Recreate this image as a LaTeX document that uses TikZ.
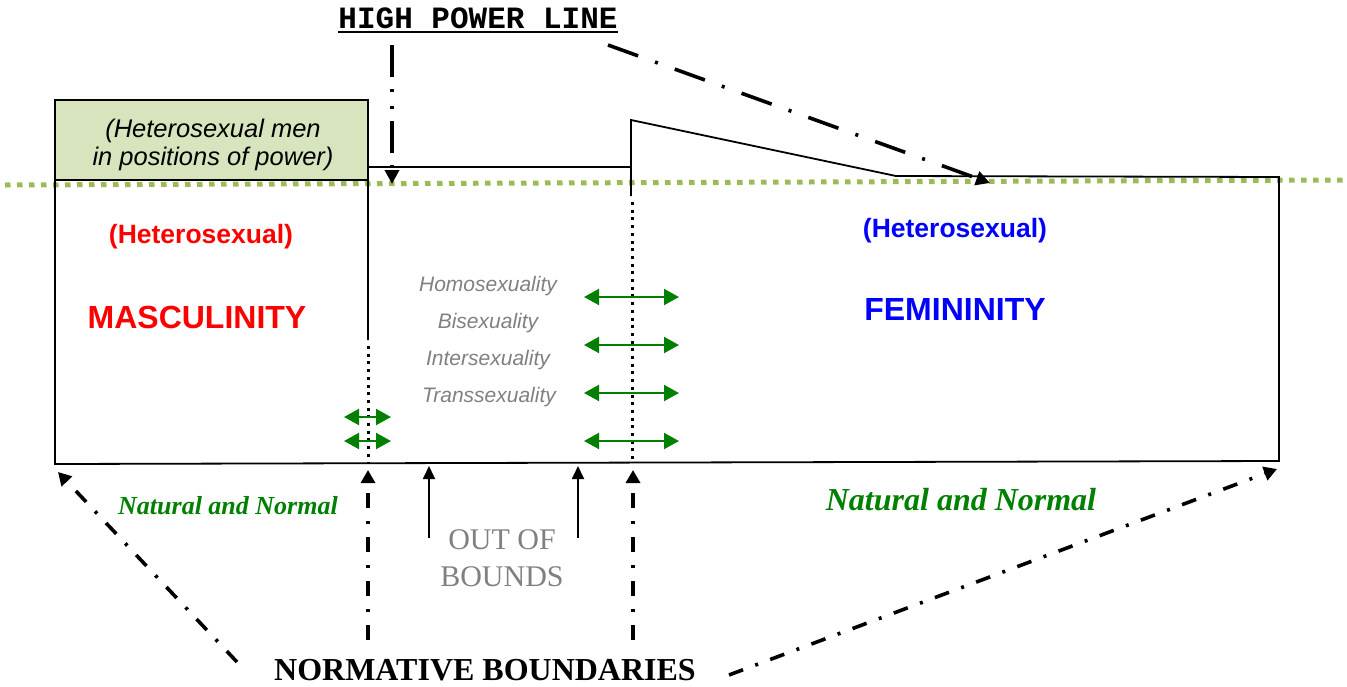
\documentclass[tikz,border=0pt]{standalone}
\usepackage{fontspec}
\setmainfont{Liberation Serif}
\setsansfont{Liberation Sans}
\setmonofont{Liberation Mono}
\usetikzlibrary{arrows.meta}
\definecolor{boxgreen}{HTML}{D7E4BD}
\definecolor{dotgreen}{HTML}{9BBB59}
\definecolor{txtgreen}{HTML}{008000}
\definecolor{txtgray}{HTML}{808080}
\newcommand{\fsz}[1]{\fontsize{#1}{#1}\selectfont}
\begin{document}
\begin{tikzpicture}[x=1pt,y=-1pt,
  outline/.style={line width=1.8pt, black},
  bounddots/.style={line width=3pt, dash pattern=on 3pt off 4.7pt},
  powerline/.style={dotgreen, line width=5pt, dash pattern=on 5.5pt off 6.5pt},
  ddarrow/.style={line width=3.6pt, dash pattern=on 15pt off 13pt on 3pt off 13pt, -{Triangle[length=13pt,width=14pt]}},
  topdd/.style={line width=3.6pt, dash pattern=on 32pt off 18pt on 3pt off 18pt, -{Triangle[length=14pt,width=14pt]}},
  topddd/.style={line width=3.6pt, dash pattern=on 32pt off 12pt on 3pt off 14pt on 3pt off 12pt, -{Triangle[length=14pt,width=14pt]}},
  dbl/.style={txtgreen, line width=2pt, {Triangle[length=15pt,width=16pt]}-{Triangle[length=15pt,width=16pt]}},
  uparrow/.style={line width=1.8pt, -{Triangle[length=13pt,width=12pt]}},
  txt/.style={inner sep=0pt, anchor=base}
]
\useasboundingbox (0,0) rectangle (1347,686);

% green box
\fill[boxgreen] (55,100) rectangle (368,180);

% high power dotted line
\draw[powerline] (5,185) -- (1345,180);

% outlines
\draw[outline] (368,340) -- (368,100) -- (55,100) -- (55,464) -- (1279,461) -- (1279,177) -- (896,176) -- (631,120) -- (631,196);
\draw[outline] (55,180) -- (368,180);
\draw[outline] (368,167) -- (631,167);

% normative boundary dotted lines
\draw[bounddots] (368,346) -- (368,462);
\draw[bounddots] (632,202) -- (632,460);

% texts
\node[txt] (title) at (478,28) {\ttfamily\bfseries\fsz{31}HIGH POWER LINE};
\draw[line width=1.6pt] ([yshift=-4pt]title.base west) -- ([yshift=-4pt]title.base east);

\node[txt] (pw1) at (213,137) {\sffamily\itshape\fsz{25.5}(Heterosexual men};
\node[txt] (pw2) at (213,165) {\sffamily\itshape\fsz{25.5}in positions of power)};

\node[txt, red] (mhet) at (201,243) {\sffamily\bfseries\fsz{26.5}(Heterosexual)};
\node[txt, red] (masc) at (197,328) {\sffamily\bfseries\fsz{32}MASCULINITY};
\node[txt, blue] (fhet) at (955,237) {\sffamily\bfseries\fsz{26.5}(Heterosexual)};
\node[txt, blue] (fem) at (955,320) {\sffamily\bfseries\fsz{32}FEMININITY};

\node[txt, txtgray] (homo) at (488,291) {\sffamily\itshape\fsz{21}Homosexuality};
\node[txt, txtgray] (bi) at (488,328) {\sffamily\itshape\fsz{21}Bisexuality};
\node[txt, txtgray] (inter) at (488,365) {\sffamily\itshape\fsz{21}Intersexuality};
\node[txt, txtgray] (trans) at (489,402) {\sffamily\itshape\fsz{21}Transsexuality};

\node[txt, txtgreen] (natl) at (228,514) {\bfseries\itshape\fsz{26}Natural and Normal};
\node[txt, txtgreen] (natr) at (961,510) {\bfseries\itshape\fsz{32}Natural and Normal};

\node[txt, txtgray] (oob1) at (502,549) {\fsz{30}OUT OF};
\node[txt, txtgray] (oob2) at (502,586) {\fsz{30}BOUNDS};

\node[txt] (norm) at (485,680) {\bfseries\fsz{32}NORMATIVE BOUNDARIES};

% green double arrows
\coordinate (r1a) at (584,297); \coordinate (r1b) at (679,297);
\coordinate (r2a) at (584,345); \coordinate (r2b) at (679,345);
\coordinate (r3a) at (584,393); \coordinate (r3b) at (679,393);
\coordinate (r4a) at (584,441); \coordinate (r4b) at (679,441);
\coordinate (l1a) at (344,417); \coordinate (l1b) at (391,417);
\coordinate (l2a) at (344,441); \coordinate (l2b) at (391,441);
\draw[dbl] (r1a) -- (r1b);
\draw[dbl] (r2a) -- (r2b);
\draw[dbl] (r3a) -- (r3b);
\draw[dbl] (r4a) -- (r4b);
\draw[dbl] (l1a) -- (l1b);
\draw[dbl] (l2a) -- (l2b);

% high power line arrows
\coordinate (t1s) at (392,45); \coordinate (t1e) at (392,184);
\coordinate (t2s) at (608,45); \coordinate (t2e) at (990,183);
\draw[topddd] (t1s) -- (t1e);
\draw[topdd] (t2s) -- (t2e);

% out of bounds arrows
\coordinate (o1s) at (429,538); \coordinate (o1e) at (429,466);
\coordinate (o2s) at (578,538); \coordinate (o2e) at (578,466);
\draw[uparrow] (o1s) -- (o1e);
\draw[uparrow] (o2s) -- (o2e);

% normative boundaries arrows
\coordinate (n1s) at (237,662); \coordinate (n1e) at (58,472);
\coordinate (n2s) at (368,640); \coordinate (n2e) at (368,470);
\coordinate (n3s) at (633,640); \coordinate (n3e) at (633,470);
\coordinate (n4s) at (729,675); \coordinate (n4e) at (1277,469);
\draw[ddarrow] (n1s) -- (n1e);
\draw[ddarrow] (n2s) -- (n2e);
\draw[ddarrow] (n3s) -- (n3e);
\draw[ddarrow] (n4s) -- (n4e);
\end{tikzpicture}
\end{document}
